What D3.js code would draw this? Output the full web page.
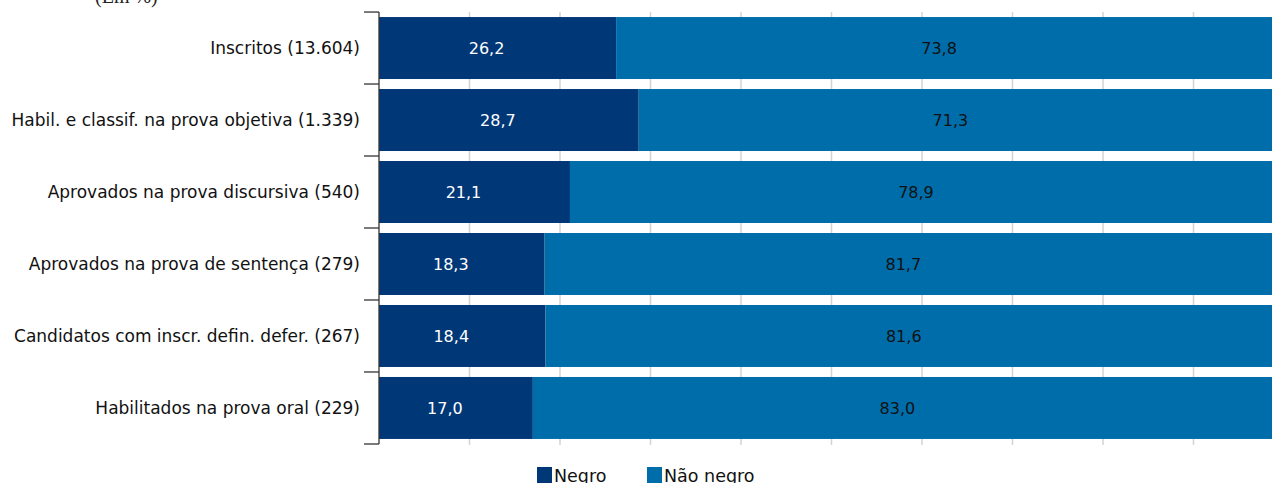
<!DOCTYPE html>
<html>
<head>
<meta charset="utf-8">
<script src="https://cdn.jsdelivr.net/npm/d3@7"></script>
<style>
body{margin:0;background:#fff;}
svg{display:block;}
.cat{font-family:"DejaVu Sans",sans-serif;font-size:17px;fill:#111;}
.val{font-family:"DejaVu Sans",sans-serif;font-size:16px;}
.leg{font-family:"DejaVu Sans",sans-serif;font-size:17.5px;fill:#111;}
</style>
</head>
<body>
<div id="chart"></div>
<script>
const categories=['Inscritos (13.604)','Habil. e classif. na prova objetiva (1.339)','Aprovados na prova discursiva (540)',
  'Aprovados na prova de sentença (279)','Candidatos com inscr. defin. defer. (267)','Habilitados na prova oral (229)'];
const negro=[26.2,28.7,21.1,18.3,18.4,17.0];
const naoNegro=[73.8,71.3,78.9,81.7,81.6,83.0];
const seriesNames=['Negro','Não negro'];
const colors=['#003777','#006dab'];
const gridTicks=[10,20,30,40,50,60,70,80,90];

const W=1272,H=483;
const svg=d3.select('#chart').append('svg').attr('width',W).attr('height',H);

const x=d3.scaleLinear().domain([0,100]).range([379,1284]);
const y=d3.scaleBand().domain(categories).range([12,444]).paddingInner(0.139).paddingOuter(0.07);

// title (cut at top)
svg.append('text').attr('x',95).attr('y',3)
  .style('font-family','"Liberation Serif",serif').style('font-size','20px').attr('fill','#222')
  .text('(Em %)');

// grid
svg.append('g').selectAll('line').data(gridTicks).enter().append('line')
  .attr('x1',d=>x(d)).attr('x2',d=>x(d)).attr('y1',12).attr('y2',445)
  .attr('stroke','#d3d3d3').attr('stroke-width',1.5);

const rows=categories.map((c,i)=>({cat:c,segs:[
  {s:0,x0:0,x1:negro[i],v:negro[i]},
  {s:1,x0:negro[i],x1:negro[i]+naoNegro[i],v:naoNegro[i]}]}));

const fmt=v=>v.toFixed(1).replace('.',',');
const shift=-11;

const rg=svg.append('g').selectAll('g').data(rows).enter().append('g');
rg.selectAll('rect').data(d=>d.segs.map(s=>({...s,cat:d.cat}))).enter().append('rect')
  .attr('x',d=>x(d.x0)).attr('width',d=>x(d.x1)-x(d.x0))
  .attr('y',d=>y(d.cat)).attr('height',y.bandwidth())
  .attr('fill',d=>colors[d.s]);
rg.selectAll('text').data(d=>d.segs.map(s=>({...s,cat:d.cat}))).enter().append('text')
  .attr('class','val')
  .attr('x',d=>(x(d.x0)+x(d.x1))/2+shift)
  .attr('y',d=>y(d.cat)+y.bandwidth()/2)
  .attr('dy','0.4em').attr('text-anchor','middle')
  .attr('fill',d=>d.s===0?'#fff':'#111')
  .text(d=>fmt(d.v));

// y axis
const ax=svg.append('g').attr('transform','translate(379,0)');
ax.append('line').attr('x1',0).attr('x2',0).attr('y1',12).attr('y2',444).attr('stroke','#333').attr('stroke-width',1.3);
const tickYs=categories.map(c=>y(c)-y.step()*y.paddingInner()/2).concat([444]);
ax.selectAll('.tk').data(tickYs).enter().append('line').attr('class','tk')
  .attr('x1',-15).attr('x2',0).attr('y1',d=>d).attr('y2',d=>d).attr('stroke','#333').attr('stroke-width',1.3);
ax.selectAll('.cat').data(categories).enter().append('text').attr('class','cat')
  .attr('x',-19).attr('y',d=>y(d)+y.bandwidth()/2).attr('dy','0.36em').attr('text-anchor','end')
  .text(d=>d);

// legend
const lg=svg.append('g').attr('transform','translate(537,467)');
const li=lg.selectAll('g').data(seriesNames).enter().append('g').attr('transform',(d,i)=>`translate(${i*110},0)`);
li.append('rect').attr('width',15).attr('height',16).attr('fill',(d,i)=>colors[i]);
li.append('text').attr('class','leg').attr('x',17).attr('y',15).text(d=>d);
</script>
</body>
</html>
